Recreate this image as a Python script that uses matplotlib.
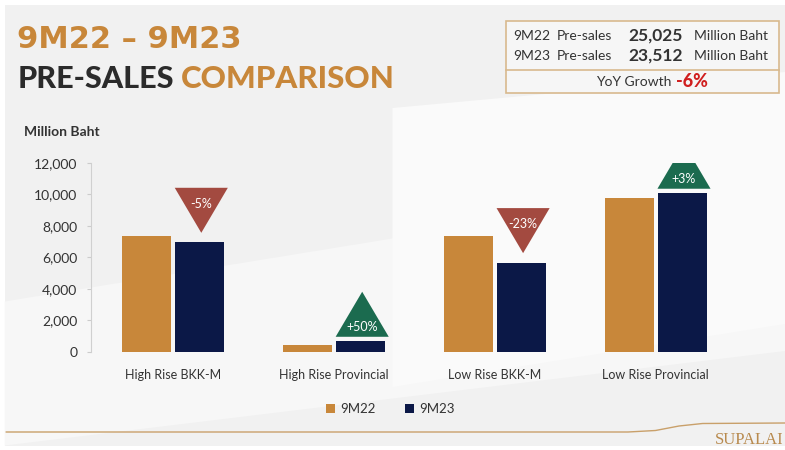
import matplotlib.pyplot as plt
from matplotlib.patches import Polygon, Rectangle
import numpy as np

categories = ['High Rise BKK-M', 'High Rise Provincial', 'Low Rise BKK-M', 'Low Rise Provincial']
presales_9m22 = [7330, 450, 7330, 9800]
presales_9m23 = [6960, 680, 5670, 10080]
changes = ['-5%', '+50%', '-23%', '+3%']
series_names = ['9M22', '9M23']
yticks = [0, 2000, 4000, 6000, 8000, 10000, 12000]

gold = '#C8873A'
navy = '#0B1847'
red = '#A34A40'
green = '#1B6B4F'
font = 'Lato'

fig = plt.figure(figsize=(7.85, 4.5), dpi=100)
fig.patch.set_facecolor('white')

# slide background with light diagonal bands
fig.patches.append(Rectangle((0.006, 0.01), 0.994, 0.98, transform=fig.transFigure,
                             facecolor='#F1F1F1', edgecolor='none', zorder=-10))
fig.patches.append(Polygon([(0.006, 0.33), (0.5, 0.47), (1.0, 0.62), (1.0, 0.22), (0.006, 0.01)],
                           closed=True, transform=fig.transFigure,
                           facecolor='#F7F7F7', edgecolor='none', zorder=-9))
fig.patches.append(Polygon([(0.5, 0.14), (0.5, 0.76), (1.0, 0.84), (1.0, 0.28)],
                           closed=True, transform=fig.transFigure,
                           facecolor='#FAFAFA', edgecolor='none', zorder=-9))

ax = fig.add_axes([0.116, 0.218, 0.824, 0.42])
ax.set_facecolor('none')

x = np.arange(len(categories))
w = 0.305
gap = 0.025
ax.bar(x - (w + gap) / 2, presales_9m22, width=w, color=gold, label=series_names[0], zorder=3)
ax.bar(x + (w + gap) / 2, presales_9m23, width=w, color=navy, label=series_names[1], zorder=3)

# change triangles above the 9M23 bars
tw = 0.165
th = 2860
for xi, b, lab in zip(x, presales_9m23, changes):
    cx = xi + (w + gap) / 2 + 0.01
    if lab.startswith('-'):
        tip = b + 600
        tri = Polygon([(cx - tw, tip + th), (cx + tw, tip + th), (cx, tip)], closed=True,
                      facecolor=red, edgecolor='none', zorder=4)
        ty = tip + th - 1000
    else:
        base = b + 280
        tri = Polygon([(cx - tw, base), (cx + tw, base), (cx, base + th)], closed=True,
                      facecolor=green, edgecolor='none', zorder=4)
        ty = base + 620
    ax.add_patch(tri)
    ax.text(cx, ty, lab, color='white', ha='center', va='center', fontsize=9,
            family=font, zorder=5)

ax.set_xlim(-0.51, 3.51)
ax.set_ylim(0, 12000)
ax.set_yticks(yticks)
ax.set_yticklabels([f'{v:,}' for v in yticks], family=font, fontsize=10, color='#333333')
ax.set_xticks(x)
ax.set_xticklabels(categories, family=font, fontsize=9, color='#333333')
ax.tick_params(axis='x', length=0, pad=12)
ax.tick_params(axis='y', length=3, color='#CCCCCC', pad=7)
for s in ['top', 'right', 'bottom']:
    ax.spines[s].set_visible(False)
ax.spines['left'].set_color('#D0D0D0')

fig.text(0.031, 0.706, 'Million Baht', family=font, fontsize=10, fontweight='bold',
         color='#333333', va='center')

leg = fig.legend(loc='center', bbox_to_anchor=(0.497, 0.091), ncol=2, frameon=False,
                 prop={'family': font, 'size': 9.5}, handlelength=0.7, handleheight=0.7,
                 handletextpad=0.4, columnspacing=2.2)
for t in leg.get_texts():
    t.set_color('#333333')

# title
fig.text(0.022, 0.912, '9M22 \u2013 9M23', family='DejaVu Sans', fontsize=22, fontweight='bold',
         color=gold, va='center')
fig.text(0.022, 0.825, 'PRE-SALES', family=font, fontsize=22, fontweight='black',
         color='#2B2B2B', va='center')
fig.text(0.2306, 0.825, 'COMPARISON', family=font, fontsize=22.5, fontweight='black',
         color=gold, va='center')

# summary box
fig.patches.append(Rectangle((506 / 785, 1 - 93 / 450), 273 / 785, 72 / 450,
                             transform=fig.transFigure, facecolor='#F6F6F6',
                             edgecolor='#D8B98E', lw=1.2))
fig.lines.append(plt.Line2D([506 / 785, 779 / 785], [1 - 70 / 450] * 2,
                            transform=fig.transFigure, color='#D8B98E', lw=1.2))
rows = [('9M22', '25,025', 35.5), ('9M23', '23,512', 55.5)]
for period, val, yy in rows:
    fy = 1 - yy / 450
    fig.text(513 / 785, fy, period, family=font, fontsize=10, color='#333333', va='center')
    fig.text(557 / 785, fy, 'Pre-sales', family=font, fontsize=10, color='#333333', va='center')
    fig.text(683 / 785, fy, val, family=font, fontsize=12.5, fontweight='bold',
             color='#333333', va='center', ha='right')
    fig.text(694 / 785, fy, 'Million Baht', family=font, fontsize=10, color='#333333', va='center')
fig.text(671 / 785, 1 - 81.5 / 450, 'YoY Growth', family=font, fontsize=10, color='#333333',
         va='center', ha='right')
fig.text(676 / 785, 1 - 81.5 / 450, '-6%', family=font, fontsize=13, fontweight='black',
         color='#D01F1F', va='center', ha='left')

# footer line and logo
fig.lines.append(plt.Line2D([0.008, 0.80, 0.835, 0.865, 0.895, 1.0],
                            [1 - 432 / 450, 1 - 432 / 450, 1 - 430.5 / 450, 1 - 426 / 450,
                             1 - 423.5 / 450, 1 - 423 / 450],
                            transform=fig.transFigure, color='#C9A06A', lw=1.0))
fig.text(0.998, 1 - 440 / 450, 'SUPALAI', family='Liberation Serif', fontsize=12,
         color='#B88A4E', ha='right', va='center')

plt.savefig('out.png', dpi=100, facecolor=fig.get_facecolor())
